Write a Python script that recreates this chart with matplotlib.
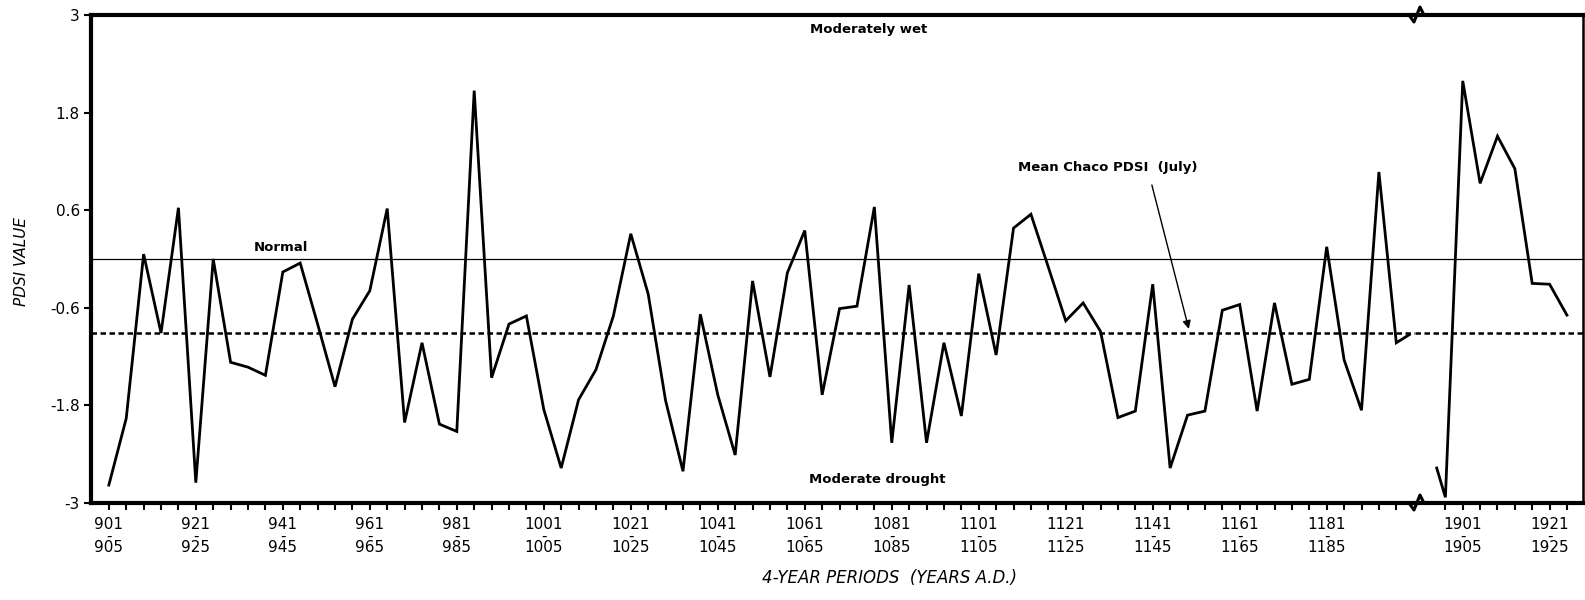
import numpy as np
import matplotlib
matplotlib.use("Agg")
import matplotlib.pyplot as plt
from matplotlib.lines import Line2D

# 4-year period start years and mean July PDSI, A.D. 901-1200
early_years = [901, 905, 909, 913, 917, 921, 925, 929, 933, 937, 941, 945, 949, 953,
               957, 961, 965, 969, 973, 977, 981, 985, 989, 993, 997, 1001, 1005, 1009,
               1013, 1017, 1021, 1025, 1029, 1033, 1037, 1041, 1045, 1049, 1053, 1057,
               1061, 1065, 1069, 1073, 1077, 1081, 1085, 1089, 1093, 1097, 1101, 1105,
               1109, 1113, 1117, 1121, 1125, 1129, 1133, 1137, 1141, 1145, 1149, 1153,
               1157, 1161, 1165, 1169, 1173, 1177, 1181, 1185, 1189, 1193, 1197, 1200]
early_pdsi = [-2.78, -1.96, 0.06, -0.91, 0.63, -2.75, 0.00, -1.27, -1.33, -1.43, -0.16,
              -0.05, -0.80, -1.57, -0.74, -0.39, 0.62, -2.01, -1.03, -2.03, -2.12, 2.07,
              -1.46, -0.80, -0.70, -1.85, -2.57, -1.73, -1.36, -0.70, 0.31, -0.43, -1.74,
              -2.61, -0.68, -1.67, -2.41, -0.27, -1.45, -0.17, 0.35, -1.67, -0.61, -0.58,
              0.64, -2.26, -0.32, -2.26, -1.03, -1.93, -0.18, -1.18, 0.38, 0.55, -0.10,
              -0.76, -0.54, -0.89, -1.95, -1.87, -0.31, -2.57, -1.92, -1.87, -0.63, -0.56,
              -1.87, -0.54, -1.54, -1.48, 0.15, -1.24, -1.86, 1.07, -1.03, -0.93]

# modern record, A.D. 1895-1928
late_years = [1895, 1897, 1901, 1905, 1909, 1913, 1917, 1921, 1925]
late_pdsi = [-2.57, -2.93, 2.19, 0.93, 1.51, 1.11, -0.30, -0.31, -0.69]

normal_level = 0.0
mean_chaco = -0.91

y_ticks = [3, 1.8, 0.6, -0.6, -1.8, -3]
y_labels = ["3", "1.8", "0.6", "-0.6", "-1.8", "-3"]

W, H = 1585, 600
fig = plt.figure(figsize=(W / 100, H / 100), dpi=100)

left, right, top, bottom, brk = 91, 1583, 15, 503, 1415
ax1 = fig.add_axes([left / W, 1 - bottom / H, (brk - left) / W, (bottom - top) / H])
ax2 = fig.add_axes([brk / W, 1 - bottom / H, (right - brk) / W, (bottom - top) / H],
                   sharey=ax1)

ax1.set_xlim(896.9, 1201.3)
ax2.set_xlim(1890.0, 1928.7)
ax1.set_ylim(-3, 3)

for ax, xs, ys in [(ax1, early_years, early_pdsi), (ax2, late_years, late_pdsi)]:
    ax.plot(xs, ys, color="black", lw=2.0, solid_joinstyle="miter", zorder=3)
    ax.axhline(normal_level, color="black", lw=0.9)
    ax.axhline(mean_chaco, color="black", lw=1.8, linestyle=(0, (2.2, 1.4)))
    ax.spines["top"].set_linewidth(3)
    ax.spines["bottom"].set_linewidth(3)
    ax.tick_params(axis="x", direction="out", length=5, width=1.5, pad=5,
                   labelsize=11)

ax1.spines["left"].set_linewidth(3)
ax1.spines["right"].set_visible(False)
ax2.spines["left"].set_visible(False)
ax2.spines["right"].set_linewidth(1.8)

ax1.set_yticks(y_ticks)
ax1.set_yticklabels(y_labels, fontsize=11)
ax1.tick_params(axis="y", direction="out", length=5, width=1.5, pad=3)
ax2.tick_params(axis="y", left=False, labelleft=False)


def period_labels(ticks, first):
    out = []
    for t in ticks:
        if (t - first) % 20 == 0:
            out.append(f"{t}\n-\n{t + 4}")
        else:
            out.append("")
    return out


t1 = list(range(901, 1198, 4))
ax1.set_xticks(t1)
ax1.set_xticklabels(period_labels(t1, 901), linespacing=0.72)
t2 = list(range(1897, 1926, 4))
ax2.set_xticks(t2)
ax2.set_xticklabels(period_labels(t2, 1901), linespacing=0.72)

# labels inside the plot
lab = dict(fontsize=9.5, fontweight="bold", color="black")
ax1.text(1075.6, 2.82, "Moderately wet", ha="center", va="center", **lab)
ax1.text(1077.7, -2.71, "Moderate drought", ha="center", va="center", **lab)
ax1.text(940.6, 0.06, "Normal", ha="center", va="bottom", **lab)
ax1.text(1110, 1.12, "Mean Chaco PDSI  (July)", ha="left", va="center", **lab)
ax1.annotate("", xy=(1149.3, -0.86), xytext=(1140.8, 0.91),
             arrowprops=dict(arrowstyle="-|>", color="black", lw=1.0,
                             mutation_scale=12, shrinkA=0, shrinkB=0))

# axis titles
fig.text(22 / W, 1 - 262 / H, "PDSI VALUE", rotation=90, ha="center", va="center",
         fontsize=11, fontstyle="italic")
fig.text(889 / W, 1 - 578 / H, "4-YEAR PERIODS  (YEARS A.D.)", ha="center",
         va="center", fontsize=12, fontstyle="italic")

# break marks on the top and bottom spines
zig = np.array([[-12, 0], [-6, 0], [-1, 7], [5, -8], [9, 0], [14, 0]])
for yb in (top, bottom):
    fig.add_artist(Line2D((brk + zig[:, 0]) / W, 1 - (yb + zig[:, 1]) / H,
                          color="black", lw=2.2, transform=fig.transFigure))

fig.savefig("out.png", dpi=100, facecolor="white")
